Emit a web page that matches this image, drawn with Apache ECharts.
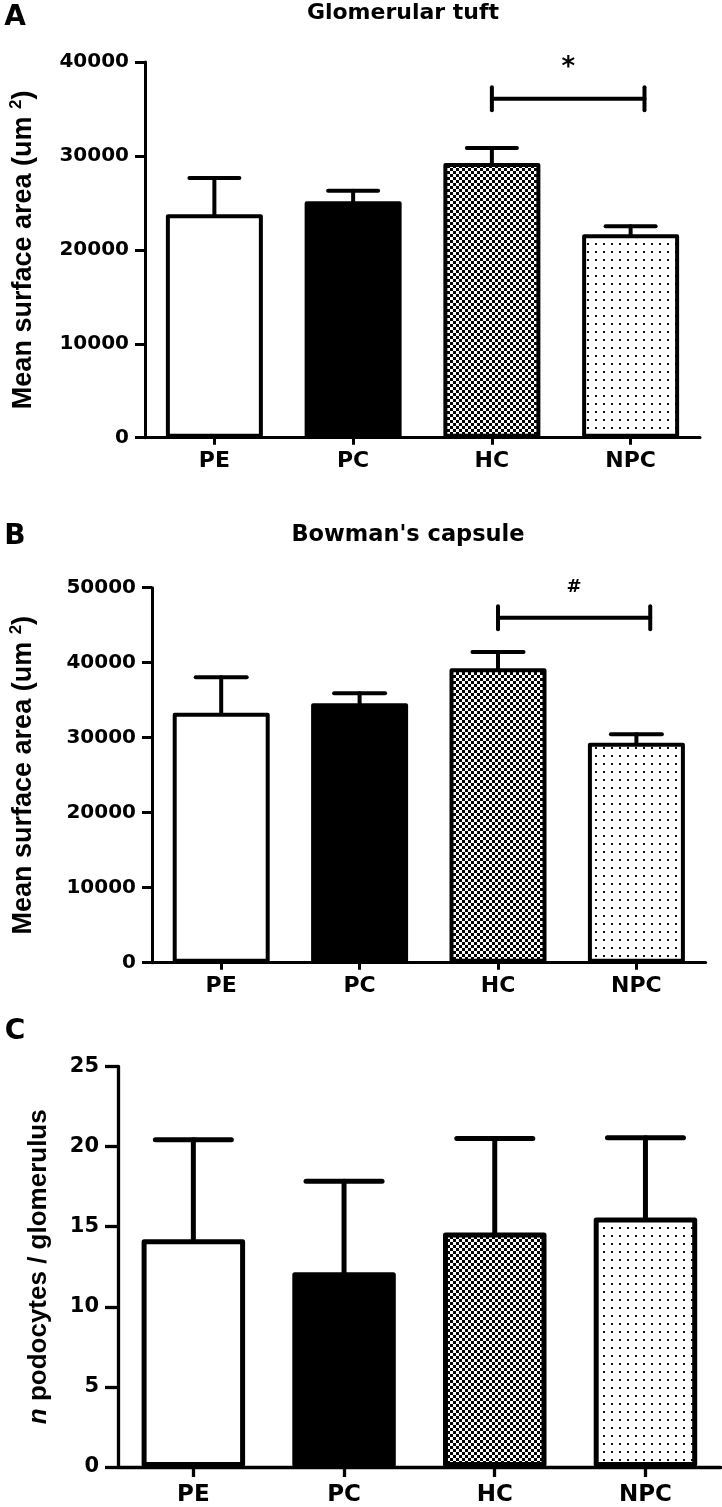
<!DOCTYPE html>
<html><head><meta charset="utf-8">
<script src="https://cdn.jsdelivr.net/npm/echarts@6/dist/echarts.min.js"></script>
<style>html,body{margin:0;padding:0;background:#fff}#c{width:722px;height:1507px}</style>
</head><body><div id="c"></div>
<script>
// ---------- data ----------
const categories = ['PE', 'PC', 'HC', 'NPC'];
// Panel A: Glomerular tuft (mean surface area, um^2)
const tuftMean  = [23800, 25180, 29260, 21670];
const tuftUpper = [27660, 26280, 30850, 22520];
const tuftTicks = [0, 10000, 20000, 30000, 40000];
const tuftSig   = [2, 3.1, 36100];   // from category, to category, level
const tuftSigMark = '*';
// Panel B: Bowman's capsule
const capMean  = [33330, 34590, 39250, 29330];
const capUpper = [38050, 35920, 41430, 30450];
const capTicks = [0, 10000, 20000, 30000, 40000, 50000];
const capSig   = [2, 3.1, 46000];
const capSigMark = '#';
// Panel C: n podocytes / glomerulus
const podoMean  = [14.22, 12.16, 14.64, 15.57];
const podoUpper = [20.43, 17.84, 20.5, 20.55];
const podoTicks = [0, 5, 10, 15, 20, 25];

// ---------- styles ----------
function makePattern(kind) {
  const c = document.createElement('canvas');
  const g = c.getContext('2d');
  if (kind === 'checker') {
    c.width = 6; c.height = 6;
    g.fillStyle = '#fff'; g.fillRect(0, 0, 6, 6);
    g.fillStyle = '#000'; g.fillRect(0, 0, 3, 3); g.fillRect(3, 3, 3, 3);
  } else {
    c.width = 8; c.height = 8;
    g.fillStyle = '#fff'; g.fillRect(0, 0, 8, 8);
    g.fillStyle = '#111'; g.fillRect(3, 3, 2, 2);
  }
  return { image: c, repeat: 'repeat' };
}
const fills = ['#ffffff', '#000000', makePattern('checker'), makePattern('dots')];

const H_FONT = '"DejaVu Sans", sans-serif';
const V_FONT = '"Liberation Sans", Arial, sans-serif';

function barSeries(idx, means, barWidth, bw) {
  return {
    type: 'bar', xAxisIndex: idx, yAxisIndex: idx, barWidth: barWidth, z: 3,
    animation: false, silent: true,
    data: means.map((v, i) => ({
      value: v,
      itemStyle: { color: fills[i], borderColor: '#000', borderWidth: bw, borderJoin: 'round' }
    }))
  };
}
function errorSeries(idx, means, uppers, capHalf, lw) {
  return {
    type: 'custom', xAxisIndex: idx, yAxisIndex: idx, z: 2, animation: false, silent: true,
    encode: { x: 0, y: [1, 2] },
    data: means.map((m, i) => [i, m, uppers[i]]),
    renderItem: (p, api) => {
      const lo = api.coord([api.value(0), api.value(1)]);
      const hi = api.coord([api.value(0), api.value(2)]);
      const st = { stroke: '#000', lineWidth: lw, lineCap: 'round', fill: null };
      return { type: 'group', children: [
        { type: 'line', shape: { x1: lo[0], y1: lo[1] + lw, x2: hi[0], y2: hi[1] }, style: st },
        { type: 'line', shape: { x1: hi[0] - capHalf, y1: hi[1], x2: hi[0] + capHalf, y2: hi[1] }, style: st }
      ]};
    }
  };
}
function sigSeries(xIdx, yIdx, sig, mark, fontSize) {
  return {
    type: 'custom', xAxisIndex: xIdx, yAxisIndex: yIdx, z: 4, animation: false, silent: true,
    encode: { x: [0, 1], y: 2 },
    data: [sig],
    renderItem: (p, api) => {
      const a = api.coord([api.value(0), api.value(2)]);
      const b = api.coord([api.value(1), api.value(2)]);
      const st = { stroke: '#000', lineWidth: 4, lineCap: 'round', fill: null };
      const h = 11.5;
      return { type: 'group', children: [
        { type: 'line', shape: { x1: a[0], y1: a[1], x2: b[0], y2: b[1] }, style: st },
        { type: 'line', shape: { x1: a[0], y1: a[1] - h, x2: a[0], y2: a[1] + h }, style: st },
        { type: 'line', shape: { x1: b[0], y1: b[1] - h, x2: b[0], y2: b[1] + h }, style: st },
        { type: 'text', x: (a[0] + b[0]) / 2, y: a[1] - 30,
          style: { text: mark, fill: '#000', align: 'center', verticalAlign: 'middle',
                   fontSize: fontSize, fontWeight: 'bold', fontFamily: H_FONT } }
      ]};
    }
  };
}

function catAxis(idx, tickLen, fontSize, margin, lw) {
  return {
    type: 'category', gridIndex: idx, data: categories, boundaryGap: true,
    axisLine: { show: true, onZero: false, lineStyle: { color: '#000', width: lw } },
    axisTick: { show: true, alignWithLabel: true, length: tickLen, lineStyle: { color: '#000', width: lw } },
    axisLabel: { color: '#000', fontFamily: H_FONT, fontWeight: 'bold', fontSize: fontSize, margin: margin, interval: 0 },
    splitLine: { show: false }
  };
}
function hiddenX(idx) {
  return { type: 'value', gridIndex: idx, min: -0.5, max: 3.5, show: false,
           axisLine: { onZero: false }, splitLine: { show: false } };
}
function valAxis(idx, ticks, name, nameGap, nameStyle, tickLen, fontSize, lw) {
  return {
    type: 'value', gridIndex: idx, min: ticks[0], max: ticks[ticks.length - 1],
    interval: ticks[1] - ticks[0],
    axisLine: { show: true, onZero: false, lineStyle: { color: '#000', width: lw } },
    axisTick: { show: true, length: tickLen, lineStyle: { color: '#000', width: lw } },
    axisLabel: { color: '#000', fontFamily: H_FONT, fontWeight: 'bold', fontSize: fontSize,
                 margin: tickLen + 6, formatter: v => String(v) },
    splitLine: { show: false },
    name: name, nameLocation: 'middle', nameGap: nameGap, nameRotate: 90,
    nameTextStyle: nameStyle
  };
}
const areaNameStyle = {
  color: '#000', fontFamily: V_FONT, fontWeight: 'bold', fontSize: 27,
  rich: {
    a: { fontFamily: V_FONT, fontWeight: 'bold', fontSize: 27, color: '#000', lineHeight: 31 },
    s: { fontFamily: V_FONT, fontWeight: 'bold', fontSize: 17, color: '#000', lineHeight: 31, verticalAlign: 'top' }
  }
};
const areaName = '{a|Mean surface area (um }{s|2}{a|)}';
const podoNameStyle = {
  color: '#000', fontFamily: V_FONT, fontWeight: 'bold', fontSize: 26,
  rich: {
    i: { fontFamily: V_FONT, fontWeight: 'bold', fontStyle: 'italic', fontSize: 26, color: '#000' },
    a: { fontFamily: V_FONT, fontWeight: 'bold', fontSize: 26, color: '#000' }
  }
};
const podoName = '{i|n}{a| podocytes / glomerulus}';

const chart = echarts.init(document.getElementById('c'), null, { renderer: 'canvas' });
chart.setOption({
  backgroundColor: '#fff',
  animation: false,
  grid: [
    { left: 134, top: 62, width: 566, height: 375.7 },
    { left: 141.6, top: 587.7, width: 564, height: 375 },
    { left: 118, top: 1066.5, width: 602.8, height: 402.5 }
  ],
  xAxis: [
    catAxis(0, 7, 22, 13, 3), catAxis(1, 7, 22, 13, 3), catAxis(2, 10, 23, 17, 3.3),
    hiddenX(0), hiddenX(1)
  ],
  yAxis: [
    valAxis(0, tuftTicks, areaName, 106, areaNameStyle, 10, 20, 3),
    valAxis(1, capTicks, areaName, 113, areaNameStyle, 10, 20, 3),
    valAxis(2, podoTicks, podoName, 66, podoNameStyle, 13, 21, 3.3)
  ],
  graphic: [
    { type: 'text', x: 15, y: 18, style: { text: 'A', fill: '#000', align: 'center', verticalAlign: 'middle', fontSize: 28, fontWeight: 'bold', fontFamily: H_FONT } },
    { type: 'text', x: 403, y: 13, style: { text: 'Glomerular tuft', fill: '#000', align: 'center', verticalAlign: 'middle', fontSize: 22, fontWeight: 'bold', fontFamily: H_FONT } },
    { type: 'text', x: 15, y: 537, style: { text: 'B', fill: '#000', align: 'center', verticalAlign: 'middle', fontSize: 28, fontWeight: 'bold', fontFamily: H_FONT } },
    { type: 'text', x: 408, y: 535, style: { text: "Bowman's capsule", fill: '#000', align: 'center', verticalAlign: 'middle', fontSize: 22.5, fontWeight: 'bold', fontFamily: H_FONT } },
    { type: 'text', x: 15, y: 1032, style: { text: 'C', fill: '#000', align: 'center', verticalAlign: 'middle', fontSize: 28, fontWeight: 'bold', fontFamily: H_FONT } }
  ],
  series: [
    errorSeries(0, tuftMean, tuftUpper, 25, 4),
    barSeries(0, tuftMean, 97, 4),
    sigSeries(3, 0, tuftSig, tuftSigMark, 26),
    errorSeries(1, capMean, capUpper, 25.5, 4),
    barSeries(1, capMean, 97, 4),
    sigSeries(4, 1, capSig, capSigMark, 18),
    errorSeries(2, podoMean, podoUpper, 38, 5),
    barSeries(2, podoMean, 103.5, 5)
  ]
});
</script></body></html>
